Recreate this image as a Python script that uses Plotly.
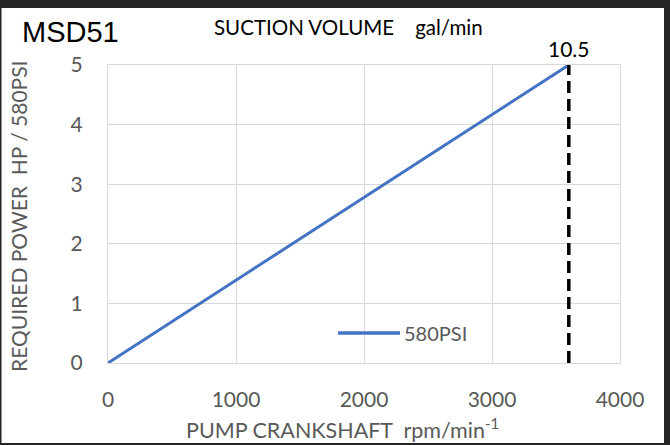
import plotly.graph_objects as go

# Data
rpm = [0, 3600]
power_hp = [0, 5]
series_name = "580PSI"
max_rpm = 3600
max_flow_label = "10.5"
x_ticks = [0, 1000, 2000, 3000, 4000]
y_ticks = [0, 1, 2, 3, 4, 5]

W, H = 670, 445
L, R, T, B = 108, 50, 65, 82
PW, PH = W - L - R, H - T - B

def px(x):
    return (x - L) / PW

def py(y):
    return (H - B - y) / PH

FONT = "Lato, Carlito, Calibri, sans-serif"
GRAY = "#595959"

fig = go.Figure()
fig.add_trace(go.Scatter(x=rpm, y=power_hp, mode="lines", name=series_name,
                         line=dict(color="#4472C4", width=3), showlegend=False))
fig.add_trace(go.Scatter(x=[max_rpm, max_rpm], y=[0, power_hp[-1]], mode="lines",
                         line=dict(color="black", width=3.5, dash="12px,6px"),
                         showlegend=False, hoverinfo="skip"))

axis_common = dict(showgrid=True, gridcolor="#d9d9d9", gridwidth=1.2,
                   showline=True, linecolor="#d9d9d9", linewidth=1.2, mirror=True,
                   zeroline=False, tickfont=dict(family=FONT, size=21, color=GRAY))

fig.update_xaxes(range=[0, 4000], tickvals=x_ticks, ticks="", ticklabelstandoff=18,
                 **axis_common)
fig.update_yaxes(range=[0, 5], tickvals=y_ticks, ticks="", ticklabelstandoff=20,
                 **axis_common)

annotations = [
    dict(x=max_rpm, y=power_hp[-1], xref="x", yref="y", text=max_flow_label,
         showarrow=False, yanchor="bottom", yshift=2,
         font=dict(family=FONT, size=21, color="black")),
    dict(x=px(20), y=py(32), xref="paper", yref="paper", text="MSD51",
         showarrow=False, xanchor="left", yanchor="middle",
         font=dict(family="Liberation Sans, Arial, sans-serif", size=29, color="black")),
    dict(x=px(348), y=py(27), xref="paper", yref="paper",
         text="SUCTION VOLUME\u00a0\u00a0\u00a0\u00a0gal/min",
         showarrow=False, xanchor="center", yanchor="middle",
         font=dict(family=FONT, size=20.5, color="black")),
    dict(x=px(402), y=py(333), xref="paper", yref="paper", text=series_name,
         showarrow=False, xanchor="left", yanchor="middle",
         font=dict(family=FONT, size=20, color=GRAY)),
    dict(x=px(342), y=py(428), xref="paper", yref="paper",
         text="PUMP CRANKSHAFT\u00a0\u00a0rpm/min<sup>-1</sup>",
         showarrow=False, xanchor="center", yanchor="middle",
         font=dict(family=FONT, size=21.5, color=GRAY)),
    dict(x=px(19), y=py(217), xref="paper", yref="paper",
         text="REQUIRED POWER\u00a0\u00a0HP / 580PSI", textangle=-90,
         showarrow=False, xanchor="center", yanchor="middle",
         font=dict(family=FONT, size=21, color=GRAY)),
]

dark = "#262626"
shapes = [
    dict(type="line", xref="paper", yref="paper", x0=px(338), x1=px(400),
         y0=py(333), y1=py(333), line=dict(color="#4472C4", width=3.5)),
    # frame
    dict(type="rect", xref="paper", yref="paper", x0=px(0), x1=px(W), y0=py(0), y1=py(8),
         fillcolor=dark, line=dict(width=0), layer="above"),
    dict(type="rect", xref="paper", yref="paper", x0=px(664), x1=px(W), y0=py(0), y1=py(H),
         fillcolor=dark, line=dict(width=0), layer="above"),
    dict(type="rect", xref="paper", yref="paper", x0=px(0), x1=px(1.5), y0=py(0), y1=py(H),
         fillcolor=dark, line=dict(width=0), layer="above"),
    dict(type="rect", xref="paper", yref="paper", x0=px(0), x1=px(W), y0=py(443), y1=py(H),
         fillcolor=dark, line=dict(width=0), layer="above"),
]

fig.update_layout(width=W, height=H, autosize=False,
                  margin=dict(l=L, r=R, t=T, b=B),
                  paper_bgcolor="white", plot_bgcolor="white",
                  annotations=annotations, shapes=shapes, showlegend=False)

fig.write_html("out.html", config={"displayModeBar": False},
               post_script="document.body.style.margin='0';document.body.style.overflow='hidden';")
